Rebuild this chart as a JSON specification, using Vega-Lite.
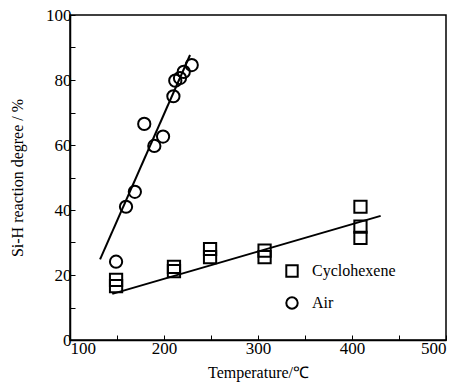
{
  "$schema": "https://vega.github.io/schema/vega-lite/v6.json",
  "width": 376,
  "height": 325,
  "autosize": "none",
  "padding": {"left": 70, "top": 15, "right": 18, "bottom": 50},
  "background": "white",
  "config": {
    "font": "Liberation Serif",
    "view": {"stroke": "black", "strokeWidth": 1.5},
    "axis": {
      "grid": false,
      "domainColor": "black",
      "domainWidth": 1.5,
      "tickColor": "black",
      "tickWidth": 1,
      "tickSize": -5,
      "labelColor": "black",
      "labelFont": "Liberation Serif",
      "labelFontSize": 17,
      "titleFont": "Liberation Serif",
      "titleFontSize": 16,
      "titleFontWeight": "normal",
      "titleColor": "black"
    },
    "legend": {
      "labelFont": "Liberation Serif",
      "labelFontSize": 16,
      "labelColor": "black"
    }
  },
  "data": {
    "values": [
      {"kind": "point", "series": "Air", "T": 149, "y": 24.1},
      {"kind": "point", "series": "Air", "T": 159.6, "y": 41},
      {"kind": "point", "series": "Air", "T": 169, "y": 45.6},
      {"kind": "point", "series": "Air", "T": 179, "y": 66.5},
      {"kind": "point", "series": "Air", "T": 189.7, "y": 59.7},
      {"kind": "point", "series": "Air", "T": 199, "y": 62.6},
      {"kind": "point", "series": "Air", "T": 210, "y": 75},
      {"kind": "point", "series": "Air", "T": 212, "y": 79.8},
      {"kind": "point", "series": "Air", "T": 217, "y": 80.6},
      {"kind": "point", "series": "Air", "T": 221, "y": 82.5},
      {"kind": "point", "series": "Air", "T": 229.5, "y": 84.6},
      {"kind": "point", "series": "Cyclohexene", "T": 149, "y": 18.5},
      {"kind": "point", "series": "Cyclohexene", "T": 149, "y": 16.6},
      {"kind": "point", "series": "Cyclohexene", "T": 210.6, "y": 22.5},
      {"kind": "point", "series": "Cyclohexene", "T": 210.6, "y": 21.2},
      {"kind": "point", "series": "Cyclohexene", "T": 249, "y": 28},
      {"kind": "point", "series": "Cyclohexene", "T": 249, "y": 25.5},
      {"kind": "point", "series": "Cyclohexene", "T": 307, "y": 27.5},
      {"kind": "point", "series": "Cyclohexene", "T": 307, "y": 25.5},
      {"kind": "point", "series": "Cyclohexene", "T": 409, "y": 41},
      {"kind": "point", "series": "Cyclohexene", "T": 409, "y": 34.9},
      {"kind": "point", "series": "Cyclohexene", "T": 409, "y": 31.4},
      {"kind": "fit", "series": "Air", "T": 132, "y": 24.8},
      {"kind": "fit", "series": "Air", "T": 227.7, "y": 87.7},
      {"kind": "fit", "series": "Cyclohexene", "T": 145, "y": 14.2},
      {"kind": "fit", "series": "Cyclohexene", "T": 430.5, "y": 38.2}
    ]
  },
  "encoding": {
    "x": {
      "field": "T",
      "type": "quantitative",
      "scale": {"domain": [100, 500], "nice": false, "zero": false},
      "axis": {
        "title": "Temperature/℃",
        "values": [100, 150, 200, 250, 300, 350, 400, 450, 500],
        "labelExpr": "datum.value % 100 == 0 ? datum.label : ''",
        "labelPadding": 5,
        "titlePadding": 8
      }
    },
    "y": {
      "field": "y",
      "type": "quantitative",
      "scale": {"domain": [0, 100], "nice": false},
      "axis": {
        "title": "Si-H reaction degree / %",
        "values": [0, 10, 20, 30, 40, 50, 60, 70, 80, 90, 100],
        "labelExpr": "datum.value % 20 == 0 ? datum.label : ''",
        "labelPadding": 4,
        "titlePadding": 20
      }
    }
  },
  "layer": [
    {
      "transform": [{"filter": "datum.kind == 'fit'"}],
      "mark": {"type": "line", "color": "black", "strokeWidth": 2},
      "encoding": {"detail": {"field": "series"}}
    },
    {
      "transform": [{"filter": "datum.kind == 'point'"}],
      "mark": {"type": "point", "filled": false, "strokeWidth": 2, "opacity": 1, "size": 150, "color": "black"},
      "encoding": {
        "shape": {
          "field": "series",
          "type": "nominal",
          "scale": {"domain": ["Cyclohexene", "Air"], "range": ["square", "circle"]},
          "legend": {
            "title": null,
            "orient": "none",
            "legendX": 214,
            "legendY": 248,
            "symbolSize": 130,
            "symbolStrokeWidth": 2,
            "symbolStrokeColor": "black",
            "symbolFillColor": "transparent",
            "rowPadding": 12,
            "labelOffset": 12
          }
        }
      }
    }
  ]
}
